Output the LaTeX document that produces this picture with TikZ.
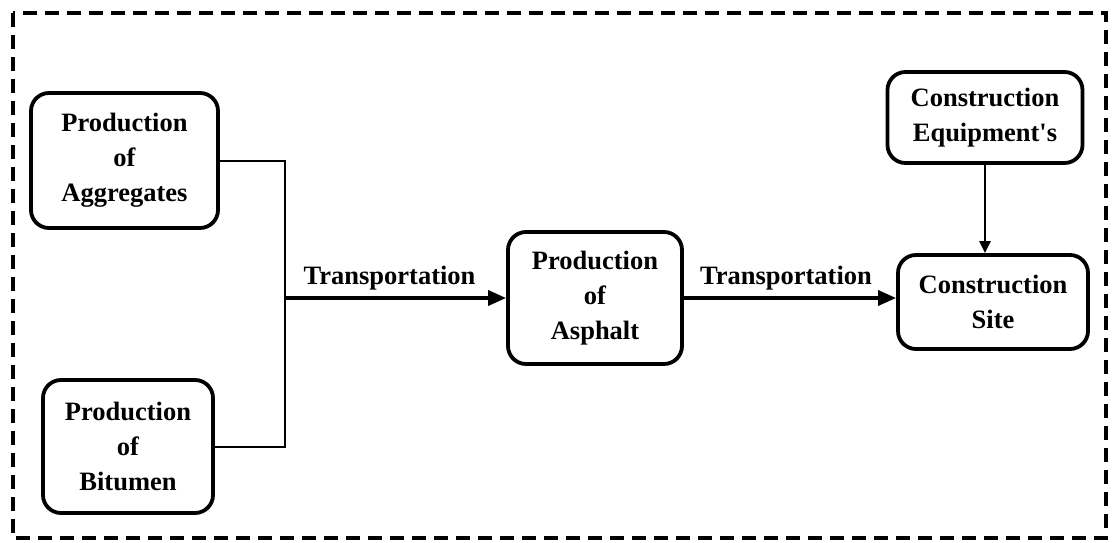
\documentclass[tikz,border=0pt]{standalone}
\usepackage{fontspec}
\setmainfont{Liberation Serif}
\usetikzlibrary{positioning, arrows.meta}

\tikzset{
    procbox/.style={draw, line width=3.8pt, rounded corners=18pt, align=center,
        font=\fontsize{26.5}{35}\selectfont\bfseries, inner sep=0pt},
    flow/.style={line width=3.5pt, -{Triangle[length=18pt,width=15pt]}},
    feed/.style={line width=2pt},
    lbl/.style={font=\fontsize{26.5}{35}\selectfont\bfseries, above, inner sep=6pt}
}

\begin{document}
\begin{tikzpicture}[x=1pt, y=-1pt]
        \useasboundingbox (0,0) rectangle (1114,543);

        % Outer frame
        \draw[line width=4pt, dash pattern=on 14pt off 8pt] (13,13) rectangle (1106,538);

        % Boxes
        \node[procbox, minimum width=187pt, minimum height=135pt] (agg) at (124.5,160.5) {Production\\of\\Aggregates};
        \node[procbox, minimum width=170pt, minimum height=133pt] (bit) at (128,446.5) {Production\\of\\Bitumen};
        \node[procbox, minimum width=174pt, minimum height=132pt] (asph) at (595,298) {Production\\of\\Asphalt};
        \node[procbox, minimum width=190pt, minimum height=94pt] (site) at (993,302) {Construction\\Site};
        \node[procbox, minimum width=195pt, minimum height=91pt] (equip) at (985,117.5) {Construction\\Equipment\textquotesingle s};

        % Junction of the two inputs
        \coordinate (join) at (285,298);
        \draw[feed] (agg.east) -| (join);
        \draw[feed] (bit.east) -| (join);

        % Transport arrows
        \draw[flow] (join) -- (asph.west) node[lbl, midway, xshift=-6pt] {Transportation};
        \draw[flow] (asph.east) -- (site.west |- asph.east) node[lbl, midway, xshift=-4pt] {Transportation};

        % Equipment to site
        \draw[line width=2.5pt, -{Triangle[length=12pt,width=11pt]}] (equip.south) -- (equip.south |- site.north);
    \end{tikzpicture}
\end{document}
